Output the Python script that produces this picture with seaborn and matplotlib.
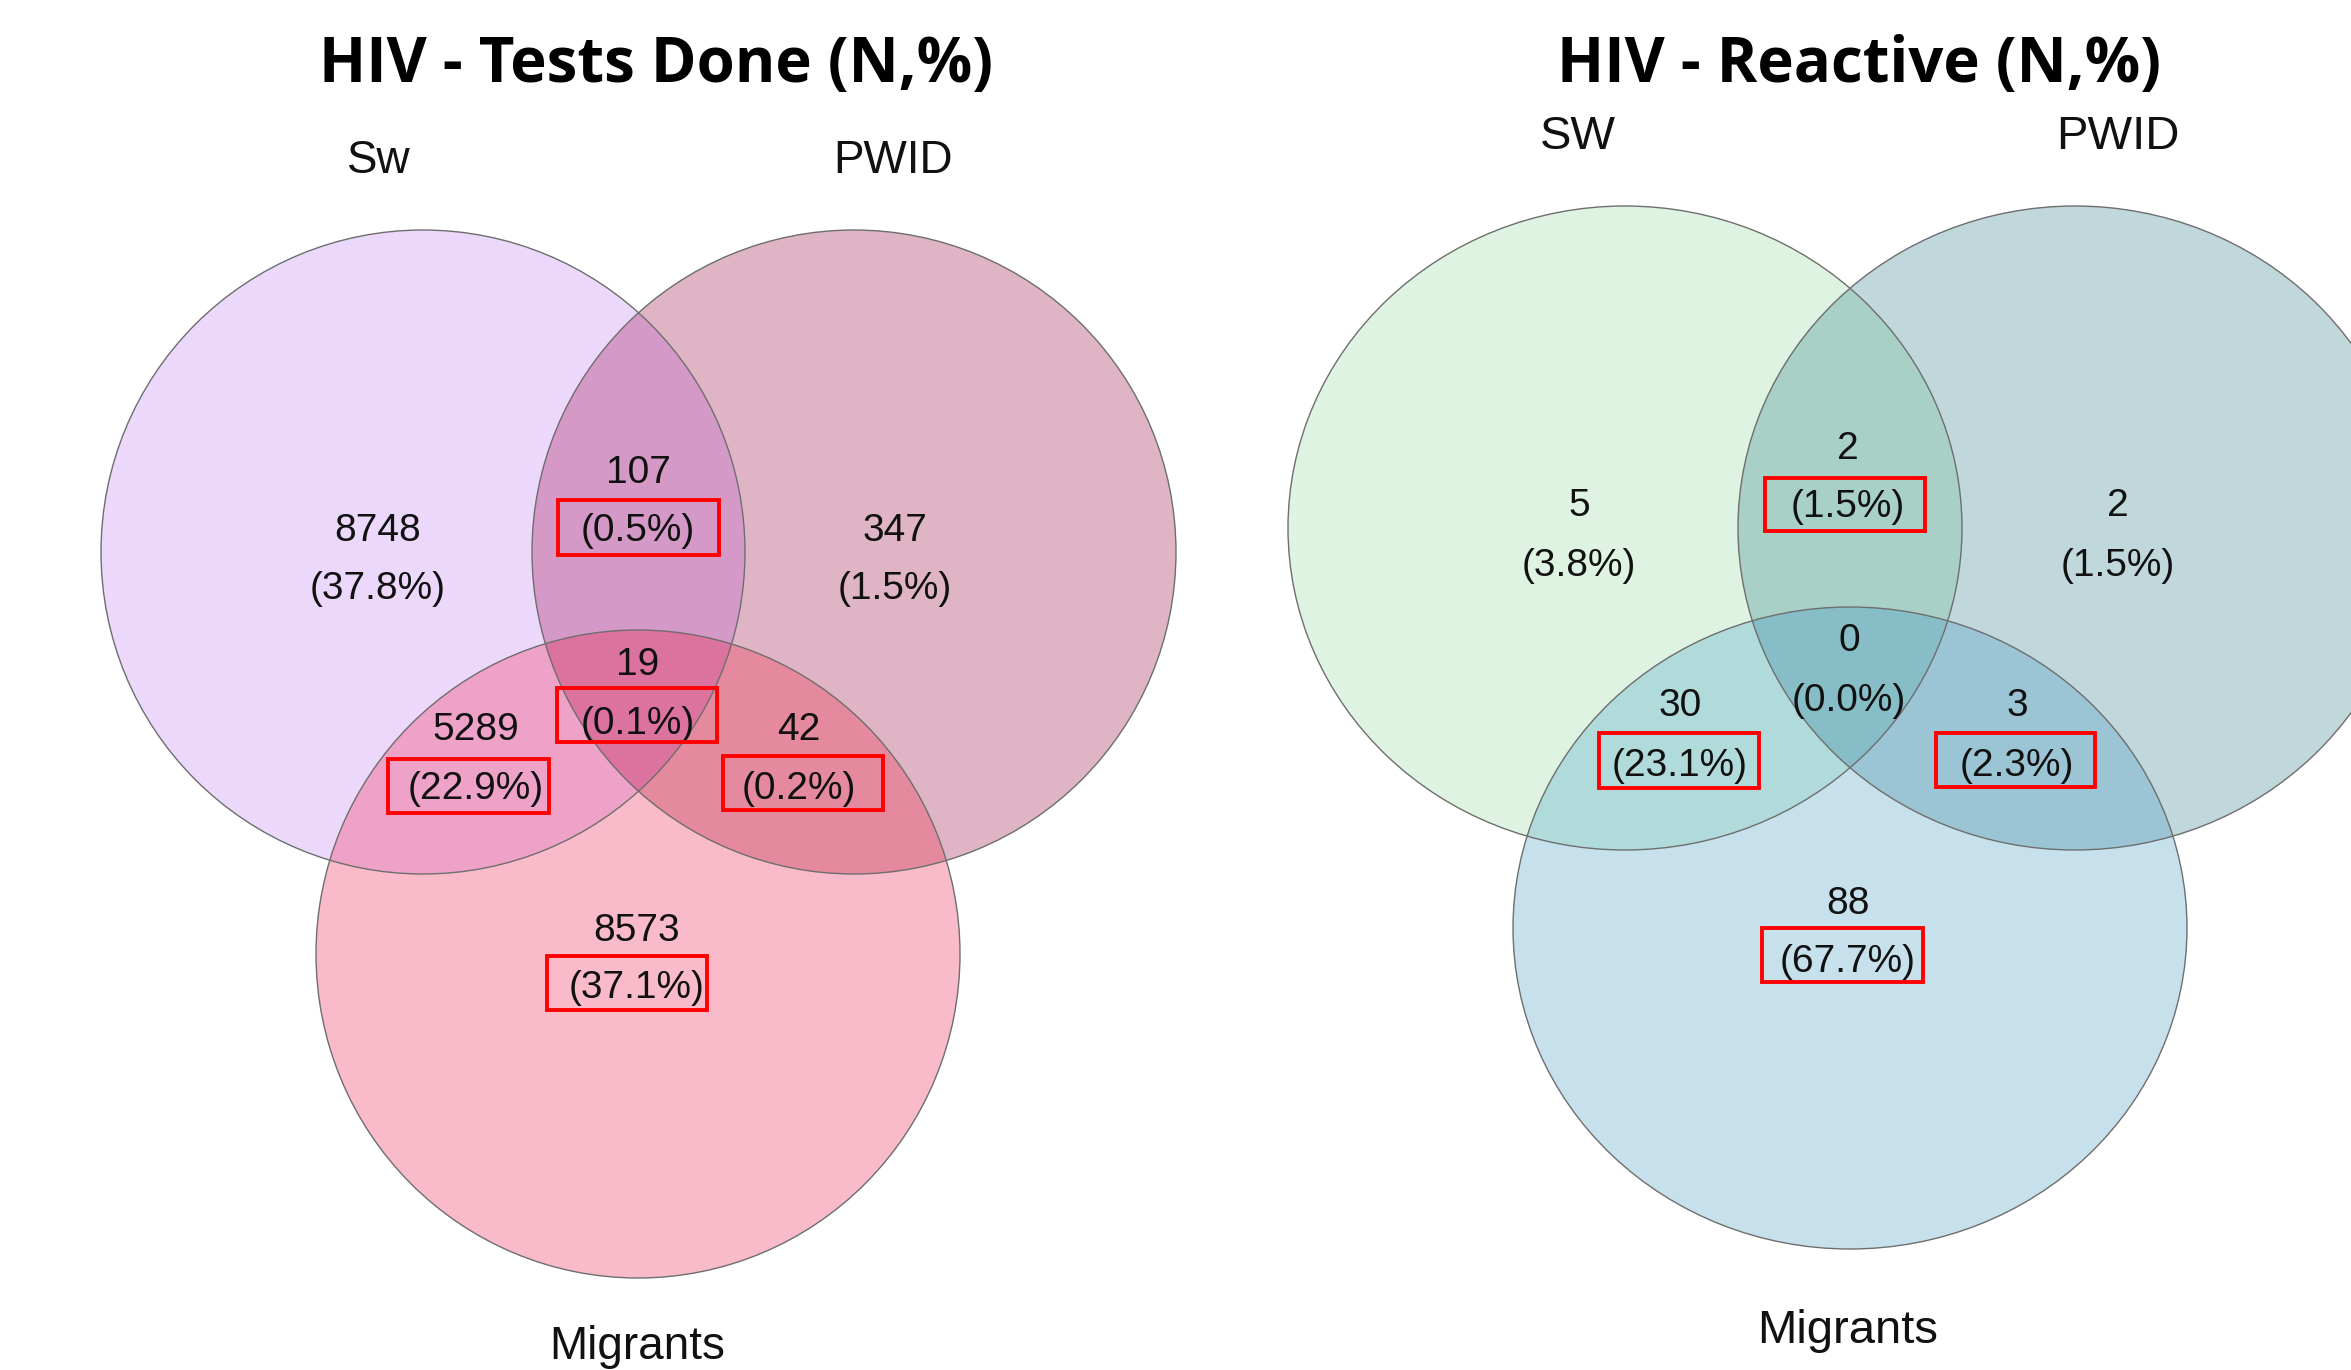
import numpy as np
import matplotlib
matplotlib.use("Agg")
import matplotlib.pyplot as plt
from matplotlib.patches import Polygon, Ellipse, Rectangle
import seaborn as sns

sns.set_theme(style="white")
plt.rcParams['font.family'] = ['Liberation Sans', 'DejaVu Sans']

# ---------------- data ----------------
regions = ["A", "B", "C", "AB", "AC", "BC", "ABC"]
tests_sets = ["Sw", "PWID", "Migrants"]
tests_counts = [8748, 347, 8573, 107, 5289, 42, 19]
tests_pcts = [37.8, 1.5, 37.1, 0.5, 22.9, 0.2, 0.1]
react_sets = ["SW", "PWID", "Migrants"]
react_counts = [5, 2, 88, 2, 30, 3, 0]
react_pcts = [3.8, 1.5, 67.7, 1.5, 23.1, 2.3, 0.0]
titles = ["HIV - Tests Done (N,%)", "HIV - Reactive (N,%)"]

# ---------------- layout (pixel space) ----------------
W, H = 2351, 1370
fig = plt.figure(figsize=(W / 100, H / 100), dpi=100)
ax = fig.add_axes([0, 0, 1, 1])
ax.set_xlim(0, W)
ax.set_ylim(H, 0)
ax.axis("off")

left = dict(
    ells=[(423, 552, 322, 322), (854, 552, 322, 322), (638, 954, 322, 324)],
    colors={"A": "#ECD8FB", "B": "#DFB5C6", "C": "#F9BBCA", "AB": "#D499C6",
            "AC": "#EFA2C8", "BC": "#E5899F", "ABC": "#DC739F"},
    text={"A": (378, 527, 585), "B": (895, 527, 585), "C": (637, 927, 984),
          "AB": (638, 469, 527), "AC": (476, 726, 785), "BC": (799, 726, 785),
          "ABC": (638, 661, 720)},
    boxes={"AB": (558, 500, 719, 555), "ABC": (557, 688, 717, 742),
           "AC": (388, 759, 549, 813), "BC": (723, 756, 883, 810),
           "C": (547, 956, 707, 1010)},
    labels=[(379, 157 + 16), (893, 157 + 16), (637, 1359)],
    label_size=33, num_size=28, title_xy=(656, 82),
)
right = dict(
    ells=[(1625, 528, 337, 322), (2075, 528, 337, 322), (1850, 928, 337, 321)],
    colors={"A": "#DFF3E2", "B": "#C0D7DB", "C": "#C7E1EC", "AB": "#A9D0C6",
            "AC": "#B1DBDA", "BC": "#9BC5D4", "ABC": "#87BDC6"},
    text={"A": (1579, 502, 562), "B": (2118, 502, 562), "C": (1848, 900, 958),
          "AB": (1848, 445, 503), "AC": (1680, 702, 762), "BC": (2017, 702, 762),
          "ABC": (1849, 637, 697)},
    boxes={"AB": (1765, 478, 1925, 531), "AC": (1599, 733, 1759, 788),
           "BC": (1936, 733, 2095, 787), "C": (1762, 928, 1923, 982)},
    labels=[(1578, 133 + 16), (2118, 133 + 16), (1848, 1343)],
    label_size=34, num_size=28, title_xy=(1859, 82),
)


def boundary(e, n=2400):
    cx, cy, rx, ry = e
    t = np.linspace(0, 2 * np.pi, n, endpoint=False)
    return np.c_[cx + rx * np.cos(t), cy + ry * np.sin(t)]


def inside(p, e):
    cx, cy, rx, ry = e
    return ((p[:, 0] - cx) / rx) ** 2 + ((p[:, 1] - cy) / ry) ** 2 <= 1 + 1e-9


def region_poly(ells, idx):
    pts = []
    for i in idx:
        P = boundary(ells[i])
        m = np.ones(len(P), bool)
        for j in idx:
            if j != i:
                m &= inside(P, ells[j])
        pts.append(P[m])
    pts = np.vstack(pts)
    c = pts.mean(0)
    ang = np.arctan2(pts[:, 1] - c[1], pts[:, 0] - c[0])
    return pts[np.argsort(ang)]


def draw_venn(cfg, sets, counts, pcts, title):
    ells = cfg["ells"]
    idx_of = {"A": [0], "B": [1], "C": [2], "AB": [0, 1], "AC": [0, 2],
              "BC": [1, 2], "ABC": [0, 1, 2]}
    for r in regions:
        poly = region_poly(ells, idx_of[r])
        ax.add_patch(Polygon(poly, closed=True, facecolor=cfg["colors"][r],
                             edgecolor="none", zorder=1 + len(r)))
    for (cx, cy, rx, ry) in ells:
        ax.add_patch(Ellipse((cx, cy), 2 * rx, 2 * ry, facecolor="none",
                             edgecolor="#6e6e6e", lw=1.0, zorder=6))
    ns = cfg["num_size"]
    off = 0.716 * ns * 100 / 72 / 2
    for r, n, p in zip(regions, counts, pcts):
        x, y1, y2 = cfg["text"][r]
        ax.text(x, y1 + off, f"{n}", ha="center", va="baseline", fontsize=ns,
                color="#111111", zorder=8)
        ax.text(x, y2 + off, f"({p:.1f}%)", ha="center", va="baseline",
                fontsize=ns, color="#111111", zorder=8)
    for r, (x0, y0, x1, y1) in cfg["boxes"].items():
        ax.add_patch(Rectangle((x0, y0), x1 - x0, y1 - y0, facecolor="none",
                               edgecolor="#FF0000", lw=2.8, zorder=9))
    for name, (x, y) in zip(sets, cfg["labels"]):
        ax.text(x, y, name, ha="center", va="baseline",
                fontsize=cfg["label_size"], color="#111111", zorder=8)
    tx, ty = cfg["title_xy"]
    ax.text(tx, ty, title, ha="center", va="baseline", fontsize=44.5,
            fontweight="bold", family=["Open Sans", "DejaVu Sans"],
            color="black", zorder=8)


draw_venn(left, tests_sets, tests_counts, tests_pcts, titles[0])
draw_venn(right, react_sets, react_counts, react_pcts, titles[1])

fig.savefig("out.png", dpi=100, facecolor="white")
